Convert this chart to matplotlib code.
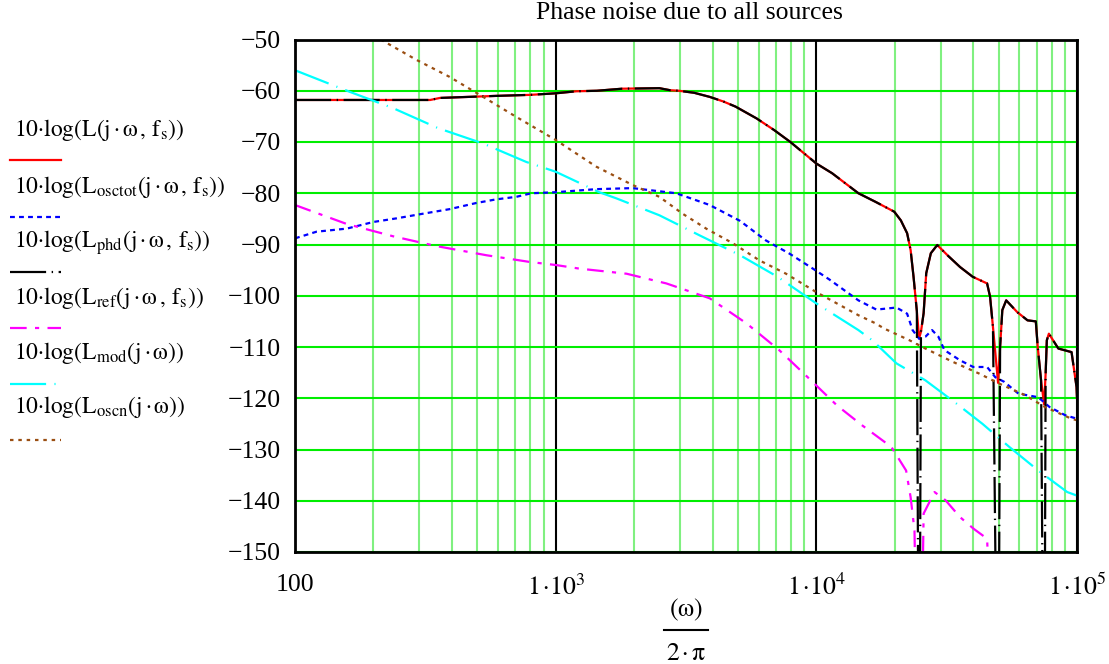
'Phase noise due to all sources - Mathcad style plot'
import numpy as np
import matplotlib
matplotlib.use('Agg')
import matplotlib.pyplot as plt
from matplotlib.lines import Line2D
from matplotlib.ticker import FixedLocator, LogLocator

plt.rcParams['font.family'] = ['Liberation Serif', 'DejaVu Serif']
plt.rcParams['mathtext.fontset'] = 'stix'
plt.rcParams['lines.scale_dashes'] = False

# total phase noise L(jw, fs)
f_tot = [100, 330, 360, 594, 800, 1000, 1200, 1440, 1800, 2500, 2750, 2970, 3400, 3900,
         4400, 4900, 5900, 6900, 7950, 10000, 11500, 14500, 16900, 19900, 21100, 22300,
         23000, 23600, 24300, 24800, 25200, 25800, 26400, 27500, 29100, 32000, 35600,
         39800, 45200, 46400, 47600, 49800, 50700, 51700, 53500, 59000, 64600, 69500,
         70700, 72800, 74800, 75800, 76600, 78000, 84800, 95300, 99600, 100000]
L_tot = [-61.8, -61.8, -61.4, -61.0, -60.8, -60.5, -60.1, -60.0, -59.6, -59.5, -59.9, -60.0,
         -60.4, -61.2, -62.1, -63.1, -65.4, -67.7, -70.0, -74.2, -76.1, -80.0, -81.7, -83.6,
         -85.3, -87.8, -91.1, -96.3, -103.0, -108.3, -107.0, -103.4, -95.6, -91.7, -90.1,
         -92.2, -94.4, -96.3, -97.6, -100.2, -106.1, -117.0, -110.0, -102.8, -100.9, -103.2,
         -104.8, -105.0, -110.0, -116.5, -121.2, -115.2, -108.7, -107.4, -110.3, -111.0,
         -117.8, -120.0]

# phase detector part (same shape, deep nulls at 25k, 50k, 75k)
f_phd = f_tot
L_phd = [-61.8, -61.8, -61.4, -61.0, -60.8, -60.5, -60.1, -60.0, -59.6, -59.5, -59.9, -60.0,
         -60.4, -61.2, -62.1, -63.1, -65.4, -67.7, -70.0, -74.2, -76.1, -80.0, -81.7, -83.6,
         -85.3, -87.8, -91.1, -96.3, -103.0, -200.0, -107.0, -103.4, -95.6, -91.7, -90.1,
         -92.2, -94.4, -96.3, -97.6, -100.2, -106.1, -200.0, -110.0, -102.8, -100.9, -103.2,
         -104.8, -105.0, -110.0, -116.5, -200.0, -115.2, -108.7, -107.4, -110.3, -111.0,
         -117.8, -120.0]

# VCO total
f_osctot = [100, 121, 158, 200, 245, 301, 392, 496, 590, 706, 807, 1000, 1430, 1975, 2900,
            3900, 5100, 6400, 7900, 9900, 11200, 14500, 17000, 20300, 22300, 23400, 24800,
            26200, 27800, 29400, 31000, 35600, 40000, 45200, 48600, 52600, 59600, 71000,
            78400, 90000, 100000]
L_osctot = [-88.8, -87.5, -86.9, -85.6, -84.9, -84.1, -83.1, -81.9, -81.2, -80.7, -80.0,
            -79.8, -79.2, -79.0, -80.0, -82.3, -85.4, -89.2, -91.8, -95.0, -96.8, -100.9,
            -102.7, -102.3, -103.5, -106.7, -108.4, -108.0, -106.7, -108.0, -110.6, -112.6,
            -113.9, -113.9, -115.9, -116.8, -119.1, -119.8, -121.7, -123.3, -124.0]

# reference
f_ref = [100, 158, 238, 348, 543, 794, 1000, 1230, 1870, 2660, 3900, 5400, 7200, 9400,
         12000, 15000, 19400, 22100, 23000, 23800, 24800, 25800, 28400, 31300, 35600,
         40200, 45200, 49800]
L_ref = [-82.3, -86.0, -88.4, -90.3, -92.1, -93.4, -94.0, -94.7, -95.7, -97.6, -100.5,
         -105.4, -110.6, -116.2, -121.4, -125.3, -129.5, -134.1, -139.3, -145.8, -200.0,
         -142.5, -138.3, -139.9, -143.2, -145.5, -147.4, -200.0]

# modulator
f_mod = [100, 162, 238, 354, 527, 772, 1000, 1470, 1710, 2500, 3560, 5100, 7100, 10000,
         14500, 16400, 20300, 26200, 34400, 43400, 55000, 71000, 91700, 100000]
L_mod = [-56.0, -60.2, -63.4, -67.3, -70.3, -73.9, -75.8, -79.8, -81.0, -84.3, -88.2,
         -92.1, -96.3, -101.5, -106.7, -108.7, -113.2, -116.5, -121.0, -125.0, -129.5,
         -134.1, -138.3, -139.0]

# oscillator noise
f_oscn = [200, 293, 392, 527, 706, 1000, 1430, 1975, 2500, 3070, 3780, 4800, 6050, 7650,
          10000, 14500, 16900, 18200, 22800, 26200, 33400, 42200, 50100, 63200, 75300,
          95300, 100000]
L_oscn = [-49.2, -54.0, -57.3, -61.2, -65.1, -69.6, -74.8, -78.4, -80.7, -84.0, -86.9,
          -89.8, -93.1, -95.7, -99.3, -103.8, -105.4, -106.4, -108.7, -110.3, -112.9,
          -115.2, -117.1, -119.4, -121.7, -124.0, -124.3]

legend_labels = [
    r'$\mathrm{10·log}\left(\mathrm{L}\left(\mathrm{j\,·\,\omega\,,\,f_s}\right)\right)$',
    r'$\mathrm{10·log}\left(\mathrm{L_{osctot}}\left(\mathrm{j\,·\,\omega\,,\,f_s}\right)\right)$',
    r'$\mathrm{10·log}\left(\mathrm{L_{phd}}\left(\mathrm{j\,·\,\omega\,,\,f_s}\right)\right)$',
    r'$\mathrm{10·log}\left(\mathrm{L_{ref}}\left(\mathrm{j\,·\,\omega\,,\,f_s}\right)\right)$',
    r'$\mathrm{10·log}\left(\mathrm{L_{mod}}\left(\mathrm{j\,·\,\omega}\right)\right)$',
    r'$\mathrm{10·log}\left(\mathrm{L_{oscn}}\left(\mathrm{j\,·\,\omega}\right)\right)$',
]

styles = [
    dict(color='#ff0000', linestyle='-'),
    dict(color='#0000ff', linestyle=(0, (3.5, 3))),
    dict(color='#000000', linestyle=(0, (26, 4, 1, 4))),
    dict(color='#ff00ff', linestyle=(0, (12, 6, 3, 6))),
    dict(color='#00ffff', linestyle=(0, (26, 6, 0.8, 6))),
    dict(color='#9a4e12', linestyle=(0, (2.5, 3.5))),
]
series = [(f_tot, L_tot), (f_osctot, L_osctot), (f_phd, L_phd),
          (f_ref, L_ref), (f_mod, L_mod), (f_oscn, L_oscn)]

FS = 18.5
FS_LEG = 17
fig = plt.figure(figsize=(11.09, 6.64), dpi=100)
W, H = 1109, 664
ax = fig.add_axes([295 / W, 1 - 552 / H, (1077 - 295) / W, (552 - 39.5) / H])

for (fx, Ly), st in zip(series, styles):
    ax.plot(fx, Ly, lw=1.6, **st)

ax.set_xscale('log')
ax.set_xlim(100, 1e5)
ax.set_ylim(-150, -50)
ax.set_yticks(np.arange(-150, -49, 10))
ax.xaxis.set_major_locator(FixedLocator([100, 1e3, 1e4, 1e5]))
ax.xaxis.set_minor_locator(LogLocator(base=10, subs=np.arange(2, 10)))
ax.set_xticklabels(['100', r'$\mathrm{1\,·10^{3}}$', r'$\mathrm{1\,·10^{4}}$',
                    r'$\mathrm{1\,·10^{5}}$'])
ax.xaxis.set_minor_formatter(plt.NullFormatter())

ax.set_axisbelow(True)
ax.grid(which='major', axis='y', color='#00ee00', lw=1.5)
ax.grid(which='minor', axis='x', color='#80f080', lw=1.5)
ax.grid(which='major', axis='x', color='black', lw=1.5)

ax.tick_params(which='both', length=0, labelsize=FS)
ax.tick_params(axis='y', pad=10)
ax.tick_params(axis='x', pad=16)
for sp in ax.spines.values():
    sp.set_linewidth(2)

fig.text(689 / W, 1 - 13 / H, 'Phase noise due to all sources', ha='center', va='center',
         fontsize=FS)

# x axis label as a stacked fraction
fig.text(686 / W, 1 - 610 / H, r'$\mathrm{(\omega)}$', ha='center', va='center', fontsize=FS)
fig.add_artist(Line2D([664 / W, 708 / W], [1 - 630 / H, 1 - 630 / H], color='black', lw=1.5))
fig.text(686 / W, 1 - 654 / H, r'$\mathrm{2\,·\,\pi}$', ha='center', va='center', fontsize=FS)

# legend column on the left
text_y = [130, 187, 243, 298, 353, 407]
line_y = [160, 217, 272, 328, 384, 440]
for lab, st, ty, ly in zip(legend_labels, styles, text_y, line_y):
    fig.text(14 / W, 1 - ty / H, lab, ha='left', va='center', fontsize=FS_LEG)
    fig.add_artist(Line2D([10 / W, 61 / W], [1 - ly / H, 1 - ly / H], lw=1.6, **st))

fig.savefig('out.png', dpi=100)
